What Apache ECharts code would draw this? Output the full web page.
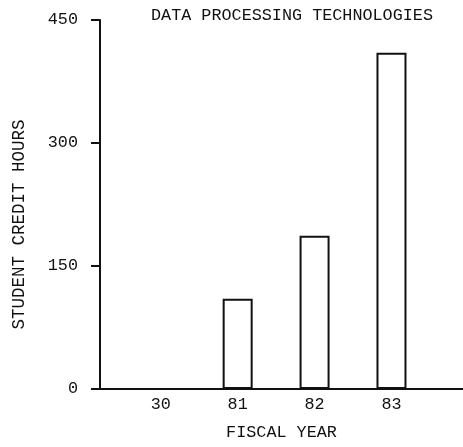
<!DOCTYPE html>
<html>
<head>
<meta charset="utf-8">
<script src="https://cdn.jsdelivr.net/npm/echarts@6/dist/echarts.min.js"></script>
<style>
  html, body { margin: 0; padding: 0; background: #fff; }
  #chart { width: 463px; height: 447px; }
</style>
</head>
<body>
<div id="chart"></div>
<script>
// Fiscal years and student credit hours per year
const years = ['30', '81', '82', '83'];
const creditHours = [0, 110, 187, 410];
const yTicks = [0, 150, 300, 450];

const FONT = '"Liberation Mono", "DejaVu Sans Mono", monospace';
const INK = '#111';

const chart = echarts.init(document.getElementById('chart'), null, { renderer: 'canvas' });

chart.setOption({
  animation: false,
  backgroundColor: '#fff',
  title: {
    text: 'DATA PROCESSING TECHNOLOGIES',
    left: 146,
    top: 2,
    textStyle: { fontFamily: FONT, fontSize: 16.8, fontWeight: 'normal', color: INK }
  },
  grid: { left: 100, right: 0, top: 20, bottom: 58, outerBoundsMode: 'none' },
  xAxis: {
    type: 'value',
    min: -0.79,
    max: 3.93,
    name: 'FISCAL YEAR',
    nameLocation: 'middle',
    nameGap: 35,
    nameTextStyle: { fontFamily: FONT, fontSize: 16.8, color: INK },
    axisLine: { show: true, onZero: false, lineStyle: { color: INK, width: 2 } },
    axisTick: { show: false },
    splitLine: { show: false },
    axisLabel: {
      customValues: years.map((_, i) => i),
      formatter: v => years[Math.round(v)],
      margin: 7,
      fontFamily: FONT,
      fontSize: 16.8,
      color: INK
    }
  },
  yAxis: {
    type: 'value',
    min: yTicks[0],
    max: yTicks[yTicks.length - 1],
    interval: yTicks[1] - yTicks[0],
    name: 'STUDENT CREDIT HOURS',
    nameLocation: 'middle',
    nameGap: 72,
    nameTextStyle: { fontFamily: FONT, fontSize: 17.5, color: INK, padding: [0, 40, 0, 0] },
    axisLine: { show: true, onZero: false, lineStyle: { color: INK, width: 2 } },
    axisTick: { show: true, inside: false, length: 9, lineStyle: { color: INK, width: 2 } },
    splitLine: { show: false },
    axisLabel: { margin: 22, fontFamily: FONT, fontSize: 16.8, color: INK }
  },
  series: [{
    type: 'bar',
    data: creditHours.map((v, i) => [i, v]),
    barWidth: 30,
    itemStyle: { color: '#fff', borderColor: INK, borderWidth: 2 }
  }]
});
</script>
</body>
</html>
